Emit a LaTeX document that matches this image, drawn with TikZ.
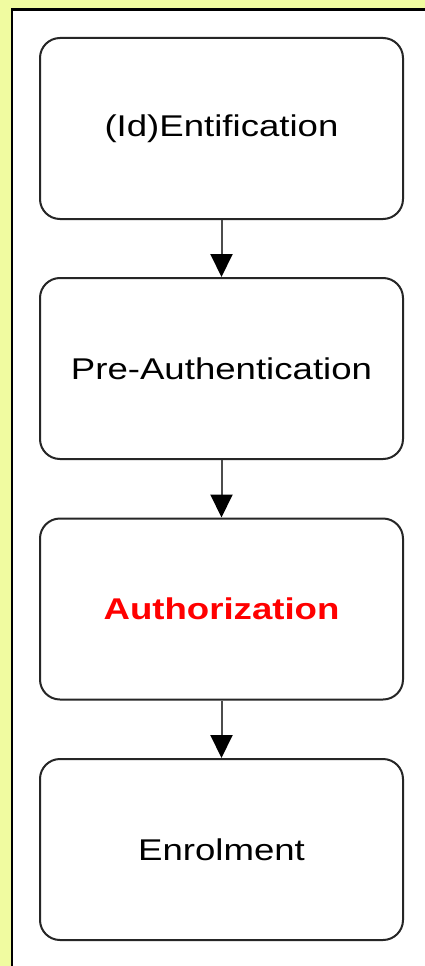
\documentclass[tikz,border=0pt]{standalone}
\usepackage{fontspec}
\setmainfont{Liberation Sans}[FakeStretch=1.22]
\usetikzlibrary{arrows.meta}
\definecolor{paper}{RGB}{240,251,160}
\definecolor{alert}{RGB}{255,0,0}
\tikzset{
  stage/.style={draw=black!85, line width=2pt, rounded corners=20pt, fill=white,
    minimum width=363pt, minimum height=181pt, inner sep=0pt,
    font=\fontsize{30}{32}\selectfont, text=black},
  flow/.style={draw=black!70, line width=2pt,
    -{Triangle[length=23pt,width=22pt,fill=black,color=black]}}
}
\begin{document}
\begin{tikzpicture}[x=1pt,y=-1pt]
  \useasboundingbox (0,0) rectangle (425,966);
  % page background and frame
  \fill[paper] (0,0) rectangle (425,966);
  \draw[line width=2.5pt, fill=white] (12,9.5) rectangle (440,990);
  % stages
  \node[stage] (ident) at (221.5,128.5) {(Id)Entification};
  \node[stage] (preauth) at (221.5,368.5) {Pre-Authentication};
  \node[stage] (authz) at (221.5,609) {\textcolor{alert}{\bfseries Authorization}};
  \node[stage] (enrol) at (221.5,849.5) {Enrolment};
  % connectors
  \draw[flow] (ident) -- (preauth);
  \draw[flow] (preauth) -- (authz);
  \draw[flow] (authz) -- (enrol);
\end{tikzpicture}
\end{document}
